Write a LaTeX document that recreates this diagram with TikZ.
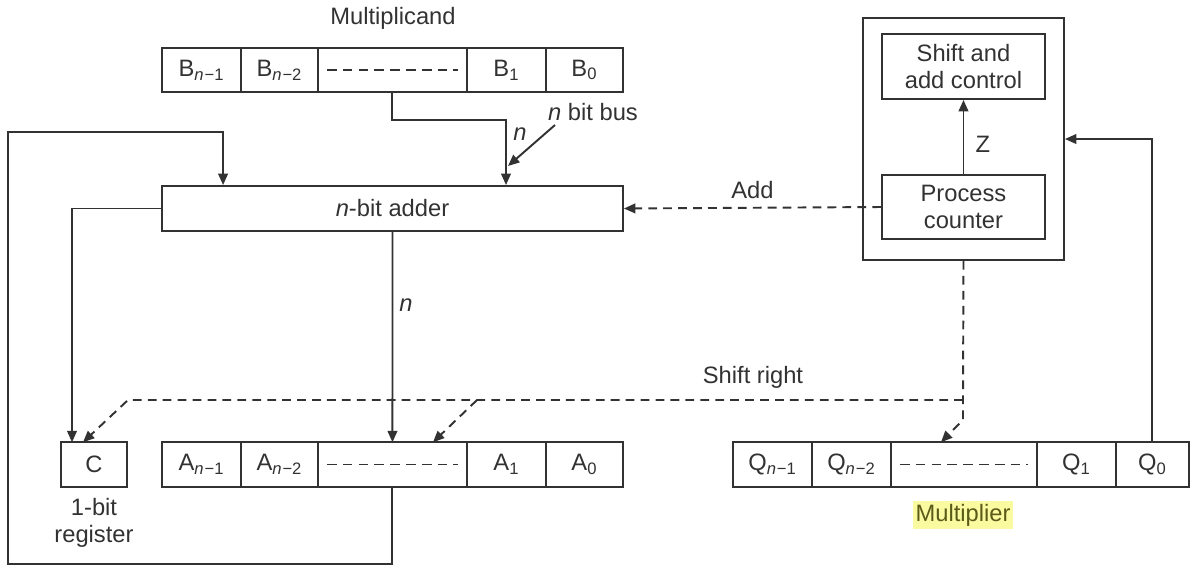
\documentclass[tikz,border=0pt]{standalone}
\usepackage{fontspec}
\setmainfont{Liberation Sans}
\usetikzlibrary{positioning,arrows.meta}
\definecolor{ink}{RGB}{50,50,50}
\definecolor{hilite}{RGB}{250,250,160}
\definecolor{hltext}{RGB}{90,90,25}
\newcommand{\bitsub}[2]{#1\textsubscript{\textit{n}\kern0.5pt−#2}}

\begin{document}
\begin{tikzpicture}[
  x=0.02cm, y=-0.02cm,
  font=\fontsize{13.5}{15}\selectfont,
  every node/.style={text=ink},
  cell/.style={draw=ink, line width=1.1pt, outer sep=0pt, inner sep=0pt, minimum height=0.89cm, minimum width=#1},
  box/.style={draw=ink, line width=1.1pt, align=center, inner sep=0pt},
  arrow/.style={draw=ink, line width=1.1pt, -{Triangle[length=6.5pt,width=5.5pt]}},
  sig/.style={arrow, dash pattern=on 5pt off 3.5pt},
  celldash/.style={draw=ink, line width=1.1pt, dash pattern=on 5.5pt off 3.5pt},
]
\useasboundingbox (0,0) rectangle (1191,566);

\node (mcand) at (393,18) {Multiplicand};
\node[cell=1.58cm, anchor=west] (bn1) at (162,70) {\bitsub{B}{1}};
\node[cell=1.54cm, right=0pt of bn1] (bn2) {\bitsub{B}{2}};
\node[cell=2.98cm, right=0pt of bn2] (bdots) {};
\node[cell=1.58cm, right=0pt of bdots] (b1) {B\textsubscript{1}};
\node[cell=1.54cm, right=0pt of b1] (b0) {B\textsubscript{0}};

\node[box, minimum width=9.22cm, minimum height=0.9cm] (adder) at (392.5,208.5) {\textit{n}-bit adder};

\node[cell=1.32cm] (cbit) at (94,464.5) {C};
\node[align=center] (cnote) at (94,523) {1-bit\\register};
\node[cell=1.58cm, anchor=west] (an1) at (162,464.5) {\bitsub{A}{1}};
\node[cell=1.54cm, right=0pt of an1] (an2) {\bitsub{A}{2}};
\node[cell=2.98cm, right=0pt of an2] (adots) {};
\node[cell=1.58cm, right=0pt of adots] (a1) {A\textsubscript{1}};
\node[cell=1.54cm, right=0pt of a1] (a0) {A\textsubscript{0}};

\node[cell=1.58cm, anchor=west] (qn1) at (733,464.5) {\bitsub{Q}{1}};
\node[cell=1.58cm, right=0pt of qn1] (qn2) {\bitsub{Q}{2}};
\node[cell=2.92cm, right=0pt of qn2] (qdots) {};
\node[cell=1.58cm, right=0pt of qdots] (q1) {Q\textsubscript{1}};
\node[cell=1.46cm, right=0pt of q1] (q0) {Q\textsubscript{0}};
\node[fill=hilite, text=hltext, inner sep=1.5pt] (mplier) at (963,515) {Multiplier};

\node[box, minimum width=4.02cm, minimum height=4.84cm] (ctrl) at (963.5,139) {};
\node[box, minimum width=3.26cm, minimum height=1.3cm] (sac) at (963.5,66.5) {Shift and\\add control};
\node[box, minimum width=3.26cm, minimum height=1.28cm] (pc) at (963.5,207) {Process\\counter};

\foreach \r in {bdots, adots, qdots}
  \draw[celldash] ([xshift=0.18cm]\r.west) -- ([xshift=-0.18cm]\r.east);

\coordinate (bus) at (506,120);
\coordinate (bustail) at (555,125);
\coordinate (bustip) at (508,166);
\node (buslbl) at (593,112) {\textit{n} bit bus};
\node (busn) at (520,134) {\textit{n}};
\draw[arrow] (bdots.south) |- (bus) -- (bus |- adder.north);
\draw[arrow] (bustail) -- (bustip);

\coordinate (loopbl) at (8,564);
\coordinate (looptl) at (8,132);
\draw[arrow] (adots.south) |- (loopbl) -- (looptl) -| ([xshift=1.24cm]adder.north west);

\draw[arrow] (adder.west) -| ([xshift=-0.44cm]cbit.north);
\draw[arrow] (adder.south) -- (adots.north) node[pos=0.35, right] {\textit{n}};

\draw[sig] (pc.west) -- (adder.east) node[midway, above=1pt] {Add};
\draw[arrow] (pc.north) -- (sac.south) node[pos=0.4, right=3pt] {Z};
\draw[arrow] (q0.north) |- (ctrl.east);

\coordinate (srR) at (963,400);
\coordinate (srA) at (477,400);
\coordinate (srL) at (128,400);
\node (srlbl) at (753,377) {Shift right};
\draw[sig] (ctrl.south) -- (srR) -- ++(0,20) -- ([xshift=-0.46cm]qdots.north);
\draw[sig] (srR) -- (srL) -- ([xshift=-0.22cm]cbit.north);
\draw[sig] (srA) -- ([xshift=0.81cm]adots.north);
\end{tikzpicture}
\end{document}
